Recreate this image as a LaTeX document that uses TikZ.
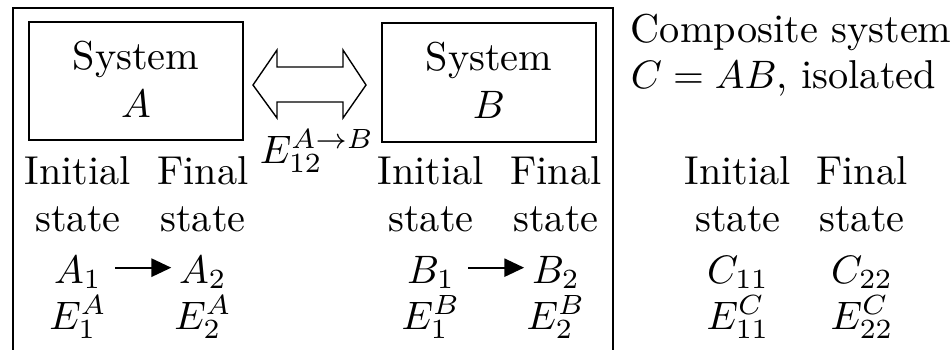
\documentclass[tikz,border=0pt]{standalone}
\usetikzlibrary{arrows.meta}
\begin{document}
\begin{tikzpicture}[x=0.2519pt,y=-0.2519pt,
  every node/.style={font=\fontsize{10.15}{12.2}\selectfont},
  frame/.style={draw=black,line width=0.35pt},
  txt/.style={inner sep=0pt,anchor=base},
  ltxt/.style={inner sep=0pt,anchor=base west},
  trans/.style={line width=0.5pt,-{Triangle[length=5pt,width=4.6pt]},shorten >=1.8pt,shorten <=3.2pt}]
\clip (0,0) rectangle (952,349);
% outer frame
\draw[frame] (13,8) rectangle (613,400);
% system boxes
\draw[frame] (29,22) rectangle (243,140);
\draw[frame] (382,23) rectangle (596,142);
\node[txt] (sA) at (136,69) {System};
\node[txt] (nA) at (136,117) {$A$};
\node[txt] (sB) at (489,70) {System};
\node[txt] (nB) at (489,118) {$B$};
% double arrow
\draw[frame] (253,85) -- (277,50) -- (277,67) -- (343,67) -- (343,50) -- (366,85)
  -- (343,118) -- (343,102) -- (277,102) -- (277,118) -- cycle;
\node[ltxt] (E12) at (259,163) {$E_{12}^{A\to B}$};
% table A
\node[txt] (iA) at (78,184) {Initial};
\node[txt] (fA) at (203,184) {Final};
\node[txt] (siA) at (78,231) {state};
\node[txt] (sfA) at (203,231) {state};
\node[txt] (A1) at (78,283) {$A_1$};
\node[txt] (A2) at (203,283) {$A_2$};
\node[txt] (EA1) at (78,329) {$E_1^A$};
\node[txt] (EA2) at (203,329) {$E_2^A$};
\draw[trans] ([yshift=1.2pt]A1.east) -- ([yshift=1.2pt]A2.west);
% table B
\node[txt] (iB) at (431,184) {Initial};
\node[txt] (fB) at (556,184) {Final};
\node[txt] (siB) at (431,231) {state};
\node[txt] (sfB) at (556,231) {state};
\node[txt] (B1) at (431,283) {$B_1$};
\node[txt] (B2) at (556,283) {$B_2$};
\node[txt] (EB1) at (431,329) {$E_1^B$};
\node[txt] (EB2) at (556,329) {$E_2^B$};
\draw[trans] ([yshift=1.2pt]B1.east) -- ([yshift=1.2pt]B2.west);
% composite
\node[ltxt] (comp1) at (630,42) {Composite system};
\node[ltxt] (comp2) at (630,88) {$C=AB$, isolated};
\node[txt] (iC) at (738,184) {Initial};
\node[txt] (fC) at (862,184) {Final};
\node[txt] (siC) at (738,231) {state};
\node[txt] (sfC) at (862,231) {state};
\node[txt] (C1) at (738,283) {$C_{11}$};
\node[txt] (C2) at (862,283) {$C_{22}$};
\node[txt] (EC1) at (738,329) {$E_{11}^C$};
\node[txt] (EC2) at (862,329) {$E_{22}^C$};
\end{tikzpicture}
\end{document}
